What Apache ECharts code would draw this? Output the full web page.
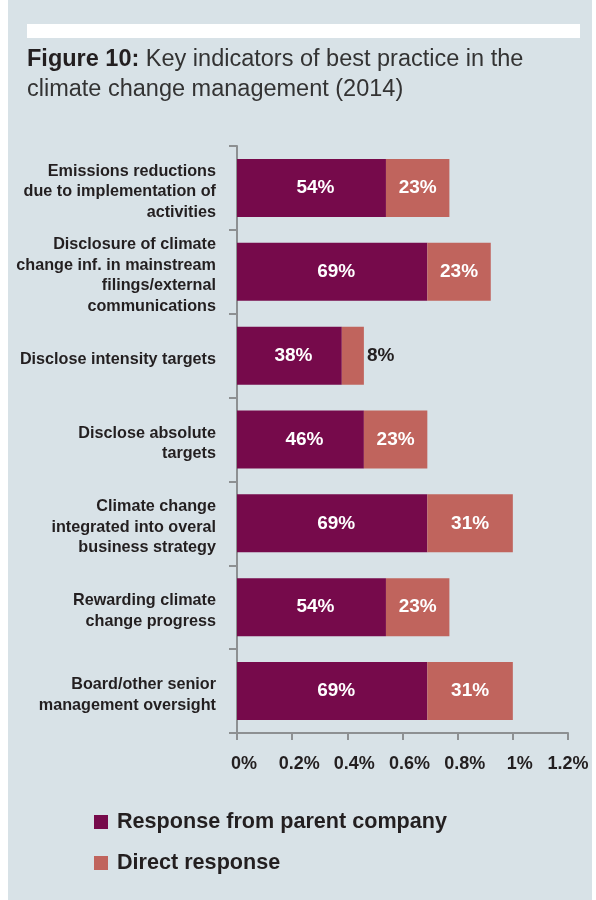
<!DOCTYPE html>
<html>
<head>
<meta charset="utf-8">
<script src="https://cdn.jsdelivr.net/npm/echarts@6/dist/echarts.min.js"></script>
<style>
  html, body { margin: 0; padding: 0; background: #ffffff; }
  #chart { width: 596px; height: 900px; }
</style>
</head>
<body>
<div id="chart"></div>
<script>
// Indicator categories, top to bottom
const categories = [
  'Emissions reductions\ndue to implementation of\nactivities',
  'Disclosure of climate\nchange inf. in mainstream\nfilings/external\ncommunications',
  'Disclose intensity targets',
  'Disclose absolute\ntargets',
  'Climate change\nintegrated into overal\nbusiness strategy',
  'Rewarding climate\nchange progress',
  'Board/other senior\nmanagement oversight'
];

// Shares of respondents (as fractions)
const parentCompany = [0.54, 0.69, 0.38, 0.46, 0.69, 0.54, 0.69];
const directResponse = [0.23, 0.23, 0.08, 0.23, 0.31, 0.23, 0.31];

// Value axis ticks
const axisMin = 0;
const axisMax = 1.2;
const axisStep = 0.2;

const seriesNames = ['Response from parent company', 'Direct response'];
const colors = ['#760a4b', '#c0645d'];

const FONT = '"Liberation Sans", Arial, Helvetica, sans-serif';
const INK = '#231f20';
const AXIS = '#8d9092';

const pct = v => Math.round(v * 100) + '%';

// Segments too narrow for an inside label get it placed to the right
function buildData(values) {
  return values.map(v => {
    if (v < 0.1) {
      return {
        value: v,
        label: { position: 'right', distance: 3, color: INK }
      };
    }
    return v;
  });
}

const barLabel = {
  show: true,
  position: 'inside',
  fontFamily: FONT,
  fontSize: 19,
  fontWeight: 'bold',
  color: '#ffffff',
  formatter: p => pct(p.value)
};

const chart = echarts.init(document.getElementById('chart'), null, { renderer: 'canvas' });

chart.setOption({
  animation: false,
  backgroundColor: '#ffffff',
  textStyle: { fontFamily: FONT },
  graphic: [
    { type: 'rect', z: -10, shape: { x: 8, y: 0, width: 584, height: 900 }, style: { fill: '#d8e2e7' } },
    { type: 'rect', z: -9, shape: { x: 27, y: 24, width: 553, height: 14 }, style: { fill: '#ffffff' } }
  ],
  title: {
    left: 22,
    top: 40,
    text: '{b|Figure 10:} Key indicators of best practice in the\nclimate change management (2014)',
    textStyle: {
      fontFamily: FONT,
      fontSize: 23.5,
      fontWeight: 'normal',
      color: '#333333',
      lineHeight: 30,
      rich: {
        b: { fontFamily: FONT, fontSize: 23.5, fontWeight: 'bold', color: INK, lineHeight: 30 }
      }
    }
  },
  legend: {
    orient: 'vertical',
    left: 89,
    top: 805,
    itemWidth: 14,
    itemHeight: 14,
    itemGap: 17,
    icon: 'rect',
    data: seriesNames,
    textStyle: {
      fontFamily: FONT, fontSize: 21.6, fontWeight: 'bold', color: INK,
      lineHeight: 21, padding: [3, 0, 0, 4]
    }
  },
  grid: { left: 237, right: 28, top: 146, bottom: 167, containLabel: false },
  xAxis: {
    type: 'value',
    min: axisMin,
    max: axisMax,
    interval: axisStep,
    splitLine: { show: false },
    axisLine: { show: true, lineStyle: { color: AXIS, width: 2 } },
    axisTick: { show: true, length: 7, inside: false, lineStyle: { color: AXIS, width: 2 } },
    axisLabel: {
      margin: 22,
      fontFamily: FONT,
      fontSize: 18,
      fontWeight: 'bold',
      color: INK,
      formatter: v => {
        const t = parseFloat(v.toFixed(1)) + '%';
        return v >= axisMax - 1e-9 ? '{e|' + t + '}' : '{s|' + t + '}';
      },
      rich: {
        s: { fontFamily: FONT, fontSize: 18, fontWeight: 'bold', color: INK, padding: [0, 0, 0, 14] },
        e: { fontFamily: FONT, fontSize: 18, fontWeight: 'bold', color: INK }
      }
    }
  },
  yAxis: {
    type: 'category',
    inverse: true,
    data: categories,
    axisLine: { show: true, lineStyle: { color: AXIS, width: 2 } },
    axisTick: { show: true, length: 8, inside: false, lineStyle: { color: AXIS, width: 2 } },
    axisLabel: {
      margin: 21,
      fontFamily: FONT,
      fontSize: 16.2,
      fontWeight: 'bold',
      color: INK,
      lineHeight: 20.5,
      align: 'right',
      // a thin spacer line nudges each block slightly down within its band
      formatter: v => '{sp| }\n' + v,
      rich: {
        sp: { fontSize: 1, lineHeight: 8 }
      }
    }
  },
  series: [
    {
      name: seriesNames[0],
      type: 'bar',
      stack: 'total',
      barWidth: 58,
      itemStyle: { color: colors[0] },
      label: Object.assign({}, barLabel, { offset: [4, 0] }),
      data: buildData(parentCompany)
    },
    {
      name: seriesNames[1],
      type: 'bar',
      stack: 'total',
      barWidth: 58,
      itemStyle: { color: colors[1] },
      label: barLabel,
      data: buildData(directResponse)
    }
  ]
});
</script>
</body>
</html>
